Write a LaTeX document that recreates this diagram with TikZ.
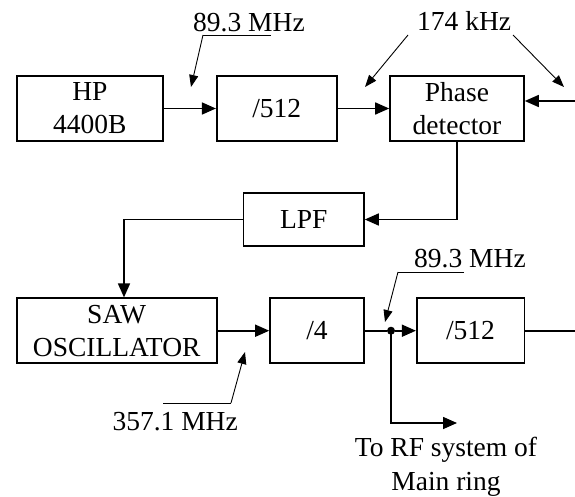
\documentclass[tikz,border=0pt]{standalone}
\usepackage{fontspec}
\setmainfont{Liberation Serif}
\usetikzlibrary{arrows.meta}
\begin{document}
\begin{tikzpicture}[x=1pt,y=-1pt,
  blk/.style={draw,line width=1.6pt,inner sep=0pt,align=center,
    font=\fontsize{27.5}{33}\selectfont},
  lbl/.style={inner sep=0pt,font=\fontsize{27.5}{34}\selectfont},
  conn/.style={line width=1.6pt,-{Triangle[length=14pt,width=12pt]}},
  wire/.style={line width=1.6pt},
  lead/.style={line width=0.9pt,-{Triangle[length=12pt,width=9pt]}},
  dotn/.style={circle,fill,inner sep=0pt,minimum size=8pt}]
\useasboundingbox (0,0) rectangle (575,497);
% top row
\node[blk,minimum width=146.3pt,minimum height=65pt] (hp) at (89.85,108.5) {HP\\4400B};
\node[blk,minimum width=120pt,minimum height=65pt] (div1) at (276.7,108.5) {/512};
\node[blk,minimum width=134pt,minimum height=65pt] (pd) at (457,108.5) {Phase\\detector};
\node[blk,minimum width=120.5pt,minimum height=53pt] (lpf) at (303.75,219.5) {LPF};
% bottom row
\node[blk,minimum width=200pt,minimum height=65pt] (saw) at (116.7,330.7) {SAW\\OSCILLATOR};
\node[blk,minimum width=94pt,minimum height=65pt] (div4) at (317,330.7) {/4};
\node[blk,minimum width=107.6pt,minimum height=65pt] (div2) at (470.5,330.7) {/512};
\node[dotn] (dot) at (391,330.7) {};
\coordinate (inR) at (575,101);
\coordinate (outR) at (575,330.7);
\coordinate (rf) at (457,423);
% connectors
\draw[conn] (hp) -- (div1);
\draw[conn] (div1) -- (pd);
\draw[conn] (inR) -- (inR -| pd.east);
\draw[conn] (pd.south) |- (lpf);
\draw[conn] (lpf.west) -| ([xshift=7.3pt]saw.north);
\draw[conn] (saw) -- (div4);
\draw[wire] (div4) -- (dot);
\draw[conn] (dot) -- (div2);
\draw[wire] (div2.east) -- (outR);
\draw[conn] (dot.center) |- (rf);
% labels
\node[lbl,anchor=base west] (l1) at (193,32) {89.3 MHz};
\node[lbl,anchor=base west] (l2) at (417,31) {174 kHz};
\node[lbl,anchor=base west] (l3) at (414,267) {89.3 MHz};
\node[lbl,anchor=base east] (l4) at (238,430) {357.1 MHz};
\node[lbl,align=center] (l5) at (446,466.5) {To RF system of\\Main ring};
% leaders
\coordinate (u1a) at (203,35); \coordinate (u1b) at (271,35); \coordinate (t1) at (191,87);
\draw[line width=0.9pt] (u1b) -- (u1a);
\draw[lead] (u1a) -- (t1);
\coordinate (k1) at (408,35); \coordinate (tk1) at (365,87);
\coordinate (k2) at (513,35); \coordinate (tk2) at (564,87);
\draw[lead] (k1) -- (tk1);
\draw[lead] (k2) -- (tk2);
\coordinate (u3a) at (398,272); \coordinate (u3b) at (464,272); \coordinate (t3) at (385,322);
\draw[line width=0.9pt] (u3b) -- (u3a);
\draw[lead] (u3a) -- (t3);
\coordinate (u4a) at (163,403); \coordinate (u4b) at (231,403); \coordinate (t4) at (245,352);
\draw[line width=0.9pt] (u4a) -- (u4b);
\draw[lead] (u4b) -- (t4);
\end{tikzpicture}
\end{document}
